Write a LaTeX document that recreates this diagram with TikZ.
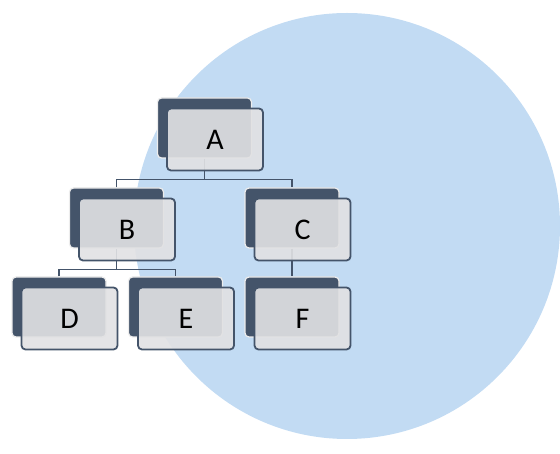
\documentclass[tikz,border=0pt]{standalone}
\usepackage{fontspec}
\setmainfont{Carlito}
\definecolor{circ}{HTML}{C2DBF3}
\definecolor{dk}{HTML}{44546A}
\definecolor{frontfill}{HTML}{E1E1E3}
\definecolor{backedge}{HTML}{EDEDED}
\tikzset{
  backbox/.style={draw=backedge, line width=1.2pt, fill=dk, rounded corners=4pt,
    minimum width=94pt, minimum height=60pt, inner sep=0pt},
  frontbox/.style={draw=dk, line width=1.8pt, fill=frontfill, fill opacity=0.91,
    text opacity=1, rounded corners=4pt, minimum width=96pt, minimum height=62pt,
    inner sep=0pt, font=\fontsize{30}{30}\selectfont},
  conn/.style={draw=dk, line width=1.8pt}
}
\begin{document}
\begin{tikzpicture}[x=1pt,y=-1pt]
\useasboundingbox (0,0) rectangle (560,454);
\fill[circ] (347,226) circle (213);
% back boxes
\node[backbox] (Ab) at (204.5,128) {};
\node[backbox] (Bb) at (116.5,218) {};
\node[backbox] (Cb) at (292,218) {};
\node[backbox] (Db) at (59,307) {};
\node[backbox] (Eb) at (175.5,307) {};
\node[backbox] (Fb) at (292,307) {};
% connectors
\draw[conn] (Ab.south) -- ++(0,21) coordinate (abar);
\draw[conn] (Bb.north) |- (abar) -| (Cb.north);
\draw[conn] (Bb.south) -- ++(0,21) coordinate (bbar);
\draw[conn] (Db.north) |- (bbar) -| (Eb.north);
\draw[conn] (Cb.south) -- (Fb.north);
% front boxes
\node[frontbox] (A) at (215,139.5) {A};
\node[frontbox] (B) at (127,229.5) {B};
\node[frontbox] (C) at (302.5,229.5) {C};
\node[frontbox] (D) at (69.5,318.5) {D};
\node[frontbox] (E) at (186,318.5) {E};
\node[frontbox] (F) at (302.5,318.5) {F};
\end{tikzpicture}
\end{document}
